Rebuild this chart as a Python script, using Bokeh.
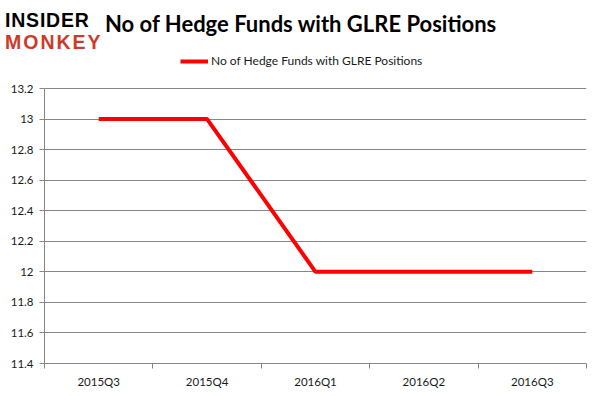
from bokeh.plotting import figure
from bokeh.models import (FixedTicker, CustomJSTickFormatter, Range1d, Div,
                          Legend, LegendItem)
from bokeh.layouts import column
from bokeh.embed import file_html
from bokeh.resources import INLINE

# ---- data ----
categories = ["2015Q3", "2015Q4", "2016Q1", "2016Q2", "2016Q3"]
hedge_funds = [13, 13, 12, 12, 12]
y_ticks = [11.4, 11.6, 11.8, 12.0, 12.2, 12.4, 12.6, 12.8, 13.0, 13.2]
series_name = "No of Hedge Funds with GLRE Positions"
title_text = "No of Hedge Funds with GLRE Positions"
logo_top = "INSIDER"
logo_bottom = "MONKEY"

GRID = "#868686"
TXT = "#1a1a1a"

# ---- layout constants (pixels) ----
PAGE_W, PAGE_H = 600, 396
HEADER_H = 54
AXIS_TOP_PAGE = 88      # where the top tick sits on the page
FRAME_BOTTOM_PAGE = 363

header_html = f"""
<div style="position:relative;width:{PAGE_W}px;height:{HEADER_H}px;overflow:hidden;background:#fff;">
  <span style="position:absolute;left:5px;top:10px;font-family:'Liberation Sans';font-weight:bold;
        font-size:19.5px;line-height:20px;letter-spacing:0.8px;color:#000;white-space:nowrap;">{logo_top}</span>
  <span style="position:absolute;left:5px;top:32px;font-family:'Liberation Sans';font-weight:bold;
        font-size:19.5px;line-height:20px;letter-spacing:2px;color:#cc3b2a;white-space:nowrap;">{logo_bottom}</span>
  <span style="position:absolute;left:105px;top:13px;font-family:'Lato';font-weight:bold;
        font-size:22px;line-height:22px;color:#000;white-space:nowrap;">{title_text}</span>
</div>
"""
header = Div(text=header_html, width=PAGE_W, height=HEADER_H, margin=0)

fig_h = PAGE_H - HEADER_H
frame_bottom = FRAME_BOTTOM_PAGE - HEADER_H      # within the figure
axis_top = AXIS_TOP_PAGE - HEADER_H
y0, y1 = y_ticks[0], y_ticks[-1]
px_per_unit = (frame_bottom - axis_top) / (y1 - y0)
y_end = y1 + axis_top / px_per_unit

x_pos = [i + 0.5 for i in range(len(categories))]
bounds = list(range(len(categories) + 1))

p = figure(width=PAGE_W, height=fig_h, output_backend="svg", toolbar_location=None,
           x_range=Range1d(0, len(categories)), y_range=Range1d(y0, y_end),
           min_border_left=44, min_border_right=14, min_border_top=0,
           min_border_bottom=fig_h - frame_bottom, margin=0)
p.outline_line_color = None
p.background_fill_color = "white"
p.border_fill_color = "white"

# grid
p.xgrid.visible = False
p.ygrid.ticker = FixedTicker(ticks=y_ticks)
p.ygrid.grid_line_color = GRID
p.ygrid.grid_line_width = 1

# x axis
xa = p.xaxis[0]
xa.ticker = FixedTicker(ticks=x_pos, minor_ticks=bounds)
xa.major_label_overrides = {x: c for x, c in zip(x_pos, categories)}
xa.major_tick_out = 0
xa.major_tick_in = 0
xa.minor_tick_out = 5
xa.minor_tick_in = 0
xa.minor_tick_line_color = GRID
xa.axis_line_color = GRID
xa.major_label_standoff = 6
xa.major_label_text_font = "Lato"
xa.major_label_text_font_size = "11.5px"
xa.major_label_text_color = TXT

# y axis
ya = p.yaxis[0]
ya.bounds = (y0, y1)
ya.ticker = FixedTicker(ticks=y_ticks)
ya.formatter = CustomJSTickFormatter(code="return String(Number(tick.toFixed(1)));")
ya.major_tick_out = 5
ya.major_tick_in = 0
ya.minor_tick_out = 0
ya.minor_tick_in = 0
ya.major_tick_line_color = GRID
ya.axis_line_color = GRID
ya.major_label_standoff = 6
ya.major_label_text_font = "Lato"
ya.major_label_text_font_size = "11.5px"
ya.major_label_text_color = TXT

r = p.line(x_pos, hedge_funds, line_color="#ff0000", line_width=4)

legend = Legend(items=[LegendItem(label=series_name, renderers=[r])],
                location=(136, frame_bottom - 7 - 7), orientation="horizontal",
                border_line_color=None, background_fill_alpha=0,
                padding=0, margin=0, glyph_width=28, glyph_height=14,
                label_height=14, label_standoff=3, label_text_font="Lato",
                label_text_font_size="12px", label_text_color=TXT)
p.add_layout(legend, "center")

layout = column(header, p, spacing=0)
open("out.html", "w").write(file_html(layout, INLINE))
